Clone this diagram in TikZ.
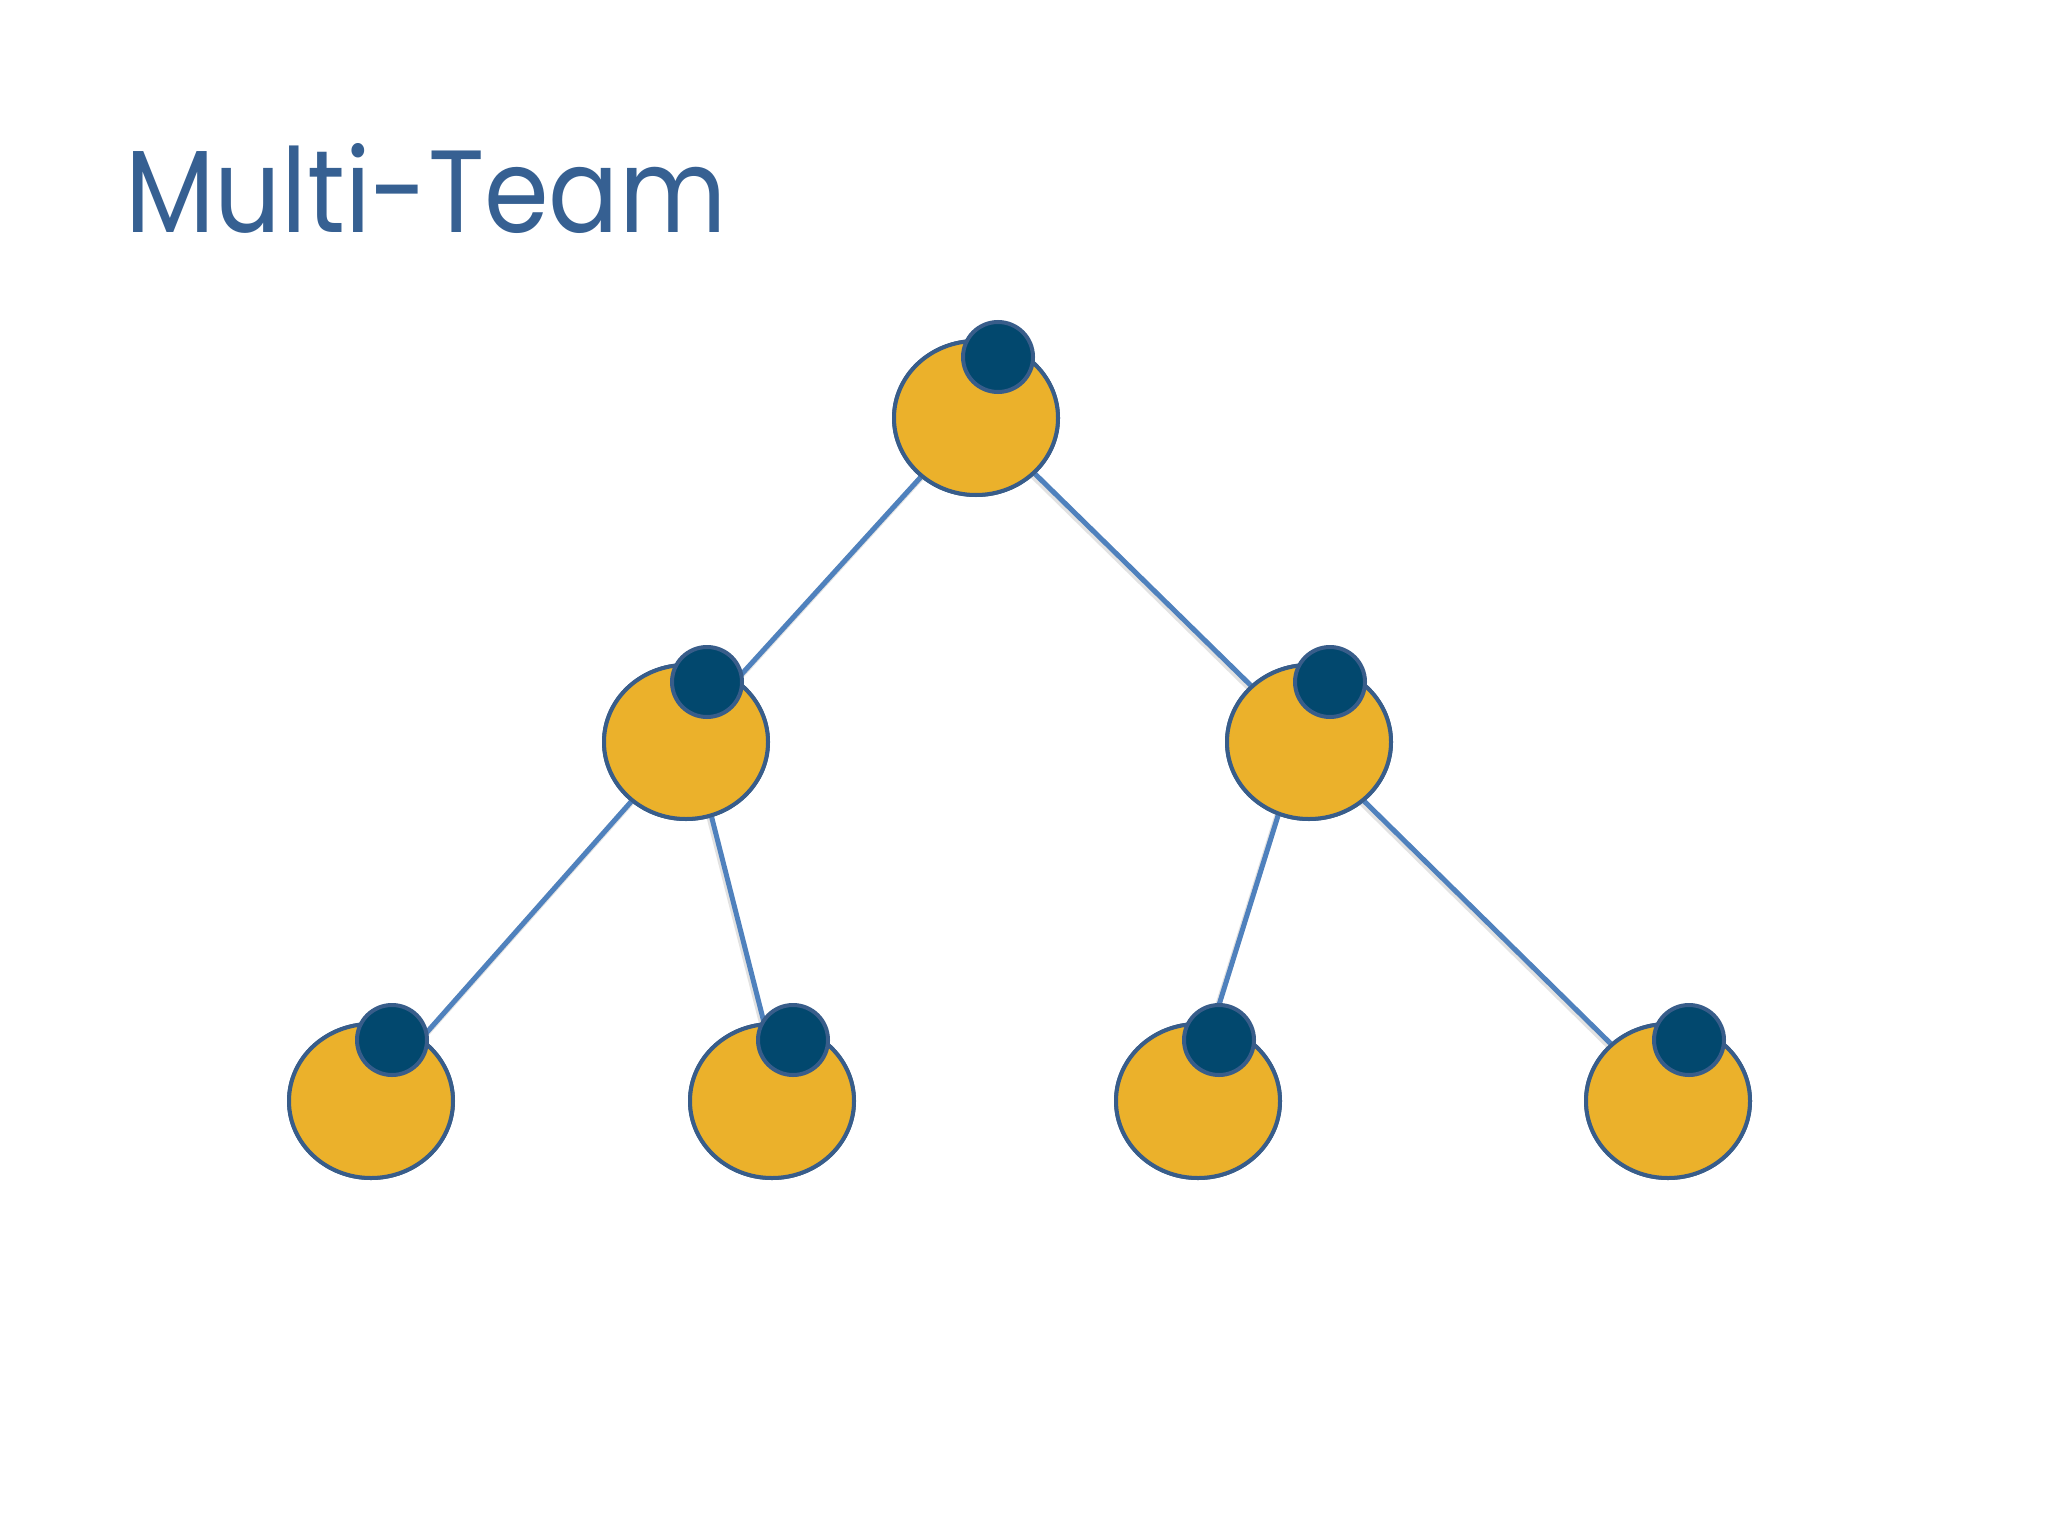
\documentclass[tikz,border=0pt]{standalone}
\usepackage{fontspec}
\setmainfont{Poppins}
\usetikzlibrary{shapes.geometric}
\definecolor{titleblue}{RGB}{54,96,146}
\definecolor{edgeblue}{RGB}{79,129,189}
\definecolor{outline}{RGB}{56,93,138}
\definecolor{gold}{RGB}{235,177,43}
\definecolor{navy}{RGB}{2,72,110}
\tikzset{
  team/.style={ellipse, draw=outline, line width=4pt, fill=gold, minimum width=164pt, minimum height=154pt, inner sep=0pt},
  lead/.style={circle, draw=outline, line width=4pt, fill=navy, minimum size=70pt, inner sep=0pt},
  link/.style={draw=edgeblue, line width=5pt},
  linkshadow/.style={draw=black!45, line width=6pt, opacity=0.25, transform canvas={shift={(-1.5pt,-2.5pt)}}}
}
\begin{document}
\begin{tikzpicture}[x=1pt,y=-1pt]
\useasboundingbox (0,0) rectangle (2048,1536);
\fill[white] (0,0) rectangle (2048,1536);
\node[anchor=base west, inner sep=0pt, text=titleblue, font=\fontsize{117}{140}\selectfont] (title) at (125,232) {\scalebox{0.89}[1]{Multi-Team}};
% team ellipses (positions)
\node[team] (r) at (976,418) {};
\node[team] (a) at (686,742) {};
\node[team] (b) at (1309,742) {};
\node[team] (c) at (371,1101) {};
\node[team] (d) at (772,1101) {};
\node[team] (e) at (1198,1101) {};
\node[team] (f) at (1668,1101) {};
% connector ends
\coordinate (ra) at ([xshift=-1.5pt]r.center);
\coordinate (rb) at ([xshift=2pt]r.center);
\coordinate (ar) at ([xshift=-6pt]a.center);
\coordinate (br) at ([xshift=-0.5pt]b.center);
\coordinate (ac) at ([xshift=-2pt]a.center);
\coordinate (ca) at ([xshift=-5pt]c.center);
\coordinate (ad) at ([xshift=6.5pt]a.center);
\coordinate (da) at ([xshift=12pt]d.center);
\coordinate (be) at ([xshift=-8pt]b.center);
\coordinate (eb) at ([xshift=-9pt]e.center);
\coordinate (bf) at ([xshift=-5pt]b.center);
\coordinate (fb) at ([xshift=1pt]f.center);
% connector shadows
\foreach \p/\q in {ra/ar, rb/br, ac/ca, ad/da, be/eb, bf/fb}
  \draw[linkshadow] (\p) -- (\q);
% connectors
\draw[link] (ra) -- (ar);
\draw[link] (rb) -- (br);
\draw[link] (ac) -- (ca);
\draw[link] (ad) -- (da);
\draw[link] (be) -- (eb);
\draw[link] (bf) -- (fb);
% redraw ellipses over the connectors
\foreach \n in {r,a,b,c,d,e,f}
  \node[team] at (\n) {};
% leader circles
\node[lead] (rl) at (998,357) {};
\node[lead] (al) at (707,682) {};
\node[lead] (bl) at (1330,682) {};
\node[lead] (cl) at (392,1040) {};
\node[lead] (dl) at (793,1040) {};
\node[lead] (el) at (1219,1040) {};
\node[lead] (fl) at (1689,1040) {};
\end{tikzpicture}
\end{document}
